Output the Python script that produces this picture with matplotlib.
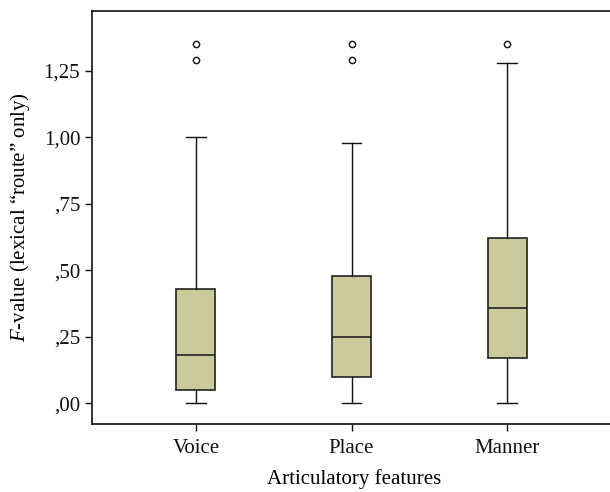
import matplotlib
matplotlib.use("Agg")
import matplotlib.pyplot as plt

categories = ["Voice", "Place", "Manner"]
q1 = [0.05, 0.10, 0.17]
med = [0.18, 0.25, 0.36]
q3 = [0.43, 0.48, 0.62]
whislo = [0.0, 0.0, 0.0]
whishi = [1.00, 0.98, 1.28]
fliers = [[1.29, 1.35], [1.29, 1.35], [1.35]]
yticks = [0.0, 0.25, 0.5, 0.75, 1.0, 1.25]
ytick_labels = [",00", ",25", ",50", ",75", "1,00", "1,25"]

plt.rcParams['font.family'] = ['Liberation Serif', 'DejaVu Serif']
plt.rcParams['mathtext.fontset'] = 'custom'
plt.rcParams['mathtext.rm'] = 'Liberation Serif'
plt.rcParams['mathtext.it'] = 'Liberation Serif:italic'

fig = plt.figure(figsize=(6.1, 4.92), dpi=100)
ax = fig.add_axes([92/610, (492-424)/492, 1 - 92/610 + 0.01, (424-11)/492])

stats = []
for i, c in enumerate(categories):
    stats.append(dict(label=c, q1=q1[i], med=med[i], q3=q3[i],
                      whislo=whislo[i], whishi=whishi[i], fliers=fliers[i]))

ax.bxp(stats, positions=[1, 2, 3], widths=0.25, patch_artist=True,
       boxprops=dict(facecolor="#CACA9B", edgecolor="#222222", linewidth=1.2),
       medianprops=dict(color="#222222", linewidth=1.2),
       whiskerprops=dict(color="#111111", linewidth=1.0),
       capprops=dict(color="#111111", linewidth=1.0),
       capwidths=0.125,
       flierprops=dict(marker="o", markerfacecolor="white", markeredgecolor="#111111",
                       markersize=4.5, markeredgewidth=1.0))

ax.set_xlim(0.332, 3.70)
ax.set_ylim(-0.078, 1.475)
ax.set_yticks(yticks)
ax.set_yticklabels(ytick_labels)
ax.set_xticks([1, 2, 3])
ax.set_xticklabels(categories)
ax.tick_params(axis="both", labelsize=15, length=5, width=1.0, colors="#111111")
ax.tick_params(axis="x", pad=6)
for s in ["left", "top", "bottom"]:
    ax.spines[s].set_linewidth(1.2)
    ax.spines[s].set_color("#111111")
ax.spines["right"].set_visible(False)

ax.set_xlabel("Articulatory features", fontsize=15, labelpad=8)
ax.set_ylabel("$\\mathit{F}$-value (lexical \u201croute\u201d only)", fontsize=15, labelpad=8)

fig.savefig("out.png", dpi=100)
